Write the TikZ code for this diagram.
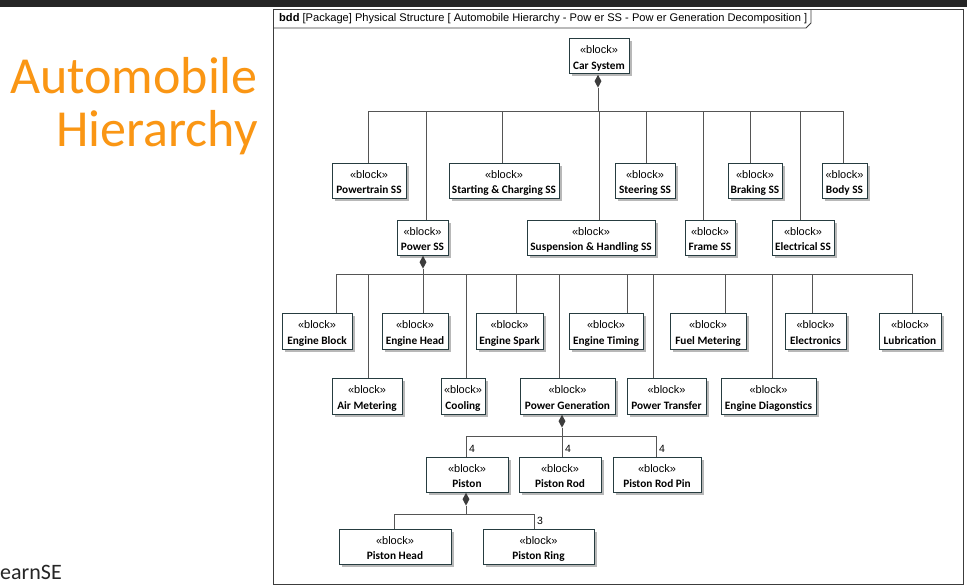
\documentclass[tikz,border=0pt]{standalone}
\usepackage{fontspec}
\setmainfont{Liberation Sans}
\newfontfamily\calf{Carlito}
\usetikzlibrary{shapes.geometric,shadows}
\definecolor{boxc}{RGB}{38,60,64}
\definecolor{linec}{RGB}{85,85,85}
\definecolor{orangec}{RGB}{250,150,20}
\definecolor{framec}{RGB}{60,60,60}
\definecolor{barc}{RGB}{38,38,38}
\tikzset{
  blk/.style={draw=boxc, line width=1pt, fill=white, inner sep=0pt, align=center,
    drop shadow={shadow xshift=2.5pt, shadow yshift=-2.5pt, fill=black!28, opacity=1}},
  conn/.style={draw=linec, line width=0.9pt},
  dia/.style={diamond, fill=linec!70!black, draw=none, minimum width=7pt, minimum height=13pt, inner sep=0pt, anchor=north},
  mult/.style={font=\fontsize{10.5}{12}\selectfont, inner sep=0pt},
}
\newcommand\bk[6]{\node[blk, minimum width={#4-#2}, minimum height={#5-#3}] (#1) at ({(#2+#4)/2},{(#3+#5)/2}) {\fontsize{11}{13}\selectfont\rule{0pt}{13.5pt}«block»\\[3.5pt]\calf\bfseries\fontsize{11.3}{13}\selectfont #6\rule[-3pt]{0pt}{3pt}};}
\newcommand\leg[3]{\coordinate (j#1) at (#2,#3); \draw[conn] (j#1) -- (j#1 |- #1.north);}
\begin{document}
\begin{tikzpicture}[x=1pt,y=-1pt]
\useasboundingbox (0,0) rectangle (967,586);
\fill[white] (0,0) rectangle (967,586);
\fill[barc] (0,0) rectangle (967,7);
% left title
\node[anchor=base east, inner sep=0pt, text=orangec, font=\calf\fontsize{52}{56}\selectfont] (t1) at (258,93) {Automobile};
\node[anchor=base east, inner sep=0pt, text=orangec, font=\calf\fontsize{52}{56}\selectfont] (t2) at (258,146) {Hierarchy};
\node[anchor=base west, inner sep=0pt, text=black!85, font=\calf\fontsize{22}{26}\selectfont] (t3) at (0,579) {earnSE};
% frame
\draw[framec, line width=1pt] (273,10) rectangle (963,584);
\draw[framec, line width=0.9pt] (273,28) -- (806,28) -- (811,23) -- (811,10);
\node[anchor=west, inner sep=0pt, font=\fontsize{11.1}{13}\selectfont] (ftitle) at (279,19) {\textbf{bdd} [Package] Physical Structure [ Automobile Hierarchy - Pow er SS - Pow er Generation Decomposition ]};
% blocks
\bk{car}{569}{39}{629}{74}{Car System}
\bk{pt}{332}{163}{406}{198}{Powertrain SS}
\bk{sc}{449}{163}{559}{198}{Starting \& Charging SS}
\bk{st}{615}{163}{675}{198}{Steering SS}
\bk{br}{728}{163}{782}{198}{Braking SS}
\bk{bo}{822}{163}{867}{198}{Body SS}
\bk{pw}{397}{220}{448}{255}{Power SS}
\bk{su}{527}{220}{655}{255}{Suspension \& Handling SS}
\bk{fr}{685}{220}{735}{255}{Frame SS}
\bk{el}{772}{220}{834}{255}{Electrical SS}
\bk{eb}{282}{313}{352}{349}{Engine Block}
\bk{eh}{382}{313}{448}{349}{Engine Head}
\bk{es}{476}{313}{543}{349}{Engine Spark}
\bk{et}{569}{313}{643}{349}{Engine Timing}
\bk{fm}{670}{313}{746}{349}{Fuel Metering}
\bk{ec}{785}{313}{846}{349}{Electronics}
\bk{lu}{879}{313}{941}{349}{Lubrication}
\bk{am}{332}{378}{402}{414}{Air Metering}
\bk{co}{441}{378}{485}{414}{Cooling}
\bk{pg}{520}{378}{615}{414}{Power Generation}
\bk{ptr}{627}{378}{706}{414}{Power Transfer}
\bk{ed}{721}{378}{816}{414}{Engine Diagonstics}
\bk{pi}{426}{457}{508}{492}{Piston}
\bk{pr}{519}{457}{601}{492}{Piston Rod}
\bk{pp}{613}{457}{701}{492}{Piston Rod Pin}
\bk{ph}{339}{529}{451}{564}{Piston Head}
\bk{prg}{483}{529}{594}{564}{Piston Ring}
% level 1: Car System
\node[dia] (d1) at ([xshift=-1pt]car.south) {};
\leg{pt}{368}{111}
\leg{pw}{426}{111}
\leg{sc}{502}{111}
\leg{su}{599}{111}
\leg{st}{646}{111}
\leg{fr}{703}{111}
\leg{br}{750}{111}
\leg{el}{800}{111}
\leg{bo}{843}{111}
\draw[conn] (jpt) -- (jbo);
\draw[conn] (d1.south) -- (d1.south |- jpt);
% level 2: Power SS
\node[dia] (d2) at ([xshift=0.5pt]pw.south) {};
\leg{eb}{336}{274}
\leg{am}{368}{274}
\leg{eh}{423}{274}
\leg{co}{466}{274}
\leg{es}{516}{274}
\leg{pg}{559}{274}
\leg{et}{627}{274}
\leg{ptr}{653}{274}
\leg{fm}{725}{274}
\leg{ed}{772}{274}
\leg{ec}{812}{274}
\leg{lu}{912}{274}
\draw[conn] (jeb) -- (jlu);
\draw[conn] (d2.south) -- (d2.south |- jeb);
% level 3: Power Generation
\node[dia] (d3) at ([xshift=-5.5pt]pg.south) {};
\leg{pi}{466}{436}
\leg{pr}{562}{436}
\leg{pp}{656}{436}
\draw[conn] (jpi) -- (jpp);
\draw[conn] (d3.south) -- (d3.south |- jpi);
\node[mult] (m1) at (472,449) {4};
\node[mult] (m2) at (568,449) {4};
\node[mult] (m3) at (662,449) {4};
% level 4: Piston
\node[dia] (d4) at ([xshift=-1pt]pi.south) {};
\leg{ph}{394}{514}
\leg{prg}{534}{514}
\draw[conn] (jph) -- (jprg);
\draw[conn] (d4.south) -- (d4.south |- jph);
\node[mult] (m4) at (540,521) {3};
\end{tikzpicture}
\end{document}
